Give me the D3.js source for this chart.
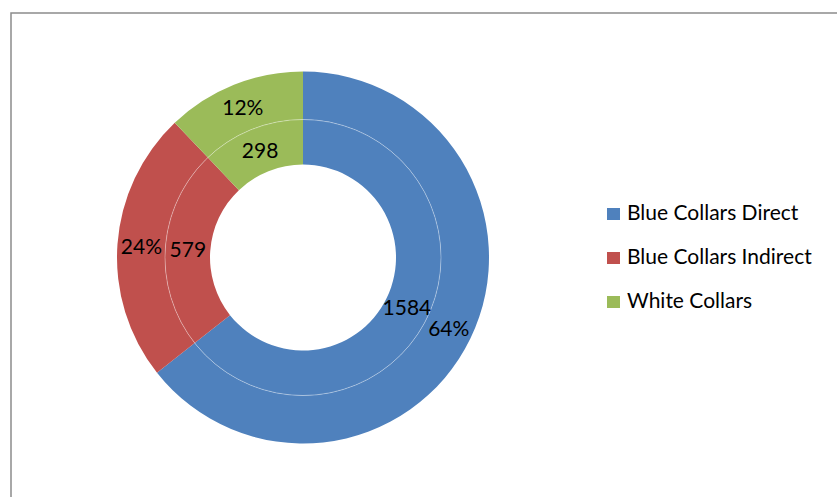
<!DOCTYPE html>
<html><head><meta charset="utf-8">
<script src="https://cdn.jsdelivr.net/npm/d3@7"></script>
<style>body{margin:0;background:#fff}svg{display:block}</style>
</head><body>
<script>
const categories = ["Blue Collars Direct", "Blue Collars Indirect", "White Collars"];
const values = [1584, 579, 298];
const percentLabels = ["64%", "24%", "12%"];
const colors = ["#4F81BD", "#C0504D", "#9BBB59"];

const W = 837, H = 497;
const svg = d3.select("body").append("svg").attr("width", W).attr("height", H);
svg.append("rect").attr("width", W).attr("height", H).attr("fill", "#fff");
// chart frame (right/bottom edges beyond view)
svg.append("rect").attr("x", 11).attr("y", 13).attr("width", 840).attr("height", 500)
  .attr("fill", "none").attr("stroke", "#8c8c8c").attr("stroke-width", 1.5);

const cx = 303, cy = 257.5;
const rHole = 93, rMid = 138, rOuter = 186;
const pie = d3.pie().sort(null).value(d => d)(values);
const g = svg.append("g").attr("transform", `translate(${cx},${cy})`);
const inner = d3.arc().innerRadius(rHole).outerRadius(rMid);
const outer = d3.arc().innerRadius(rMid).outerRadius(rOuter);
const color = d3.scaleOrdinal().domain(categories).range(colors);

g.selectAll("path.in").data(pie).join("path").attr("class", "in")
  .attr("d", inner).attr("fill", (d, i) => color(categories[i]));
g.selectAll("path.out").data(pie).join("path").attr("class", "out")
  .attr("d", outer).attr("fill", (d, i) => color(categories[i]));
g.append("circle").attr("r", rMid).attr("fill", "none")
  .attr("stroke", "#fff").attr("stroke-opacity", 0.45).attr("stroke-width", 0.8);

const font = "Lato, 'Open Sans', sans-serif";
const fs = 21;
g.selectAll("text.in").data(pie).join("text").attr("class", "in")
  .attr("transform", d => `translate(${inner.centroid(d)})`)
  .attr("text-anchor", "middle").attr("dy", "0.36em")
  .style("font-family", font).style("font-size", fs + "px").attr("fill", "#000")
  .text((d, i) => values[i]);
g.selectAll("text.out").data(pie).join("text").attr("class", "out")
  .attr("transform", d => `translate(${outer.centroid(d)})`)
  .attr("text-anchor", "middle").attr("dy", "0.36em")
  .style("font-family", font).style("font-size", fs + "px").attr("fill", "#000")
  .text((d, i) => percentLabels[i]);

const ly = d3.scalePoint().domain(categories).range([214, 302]);
const leg = svg.append("g");
const items = leg.selectAll("g").data(categories).join("g")
  .attr("transform", d => `translate(607,${ly(d)})`);
items.append("rect").attr("x", 0).attr("y", -6).attr("width", 13).attr("height", 12)
  .attr("fill", d => color(d));
items.append("text").attr("x", 20).attr("y", -1.5).attr("dy", "0.36em")
  .style("font-family", font).style("font-size", fs + "px").attr("fill", "#000")
  .text(d => d);
</script>
</body></html>
